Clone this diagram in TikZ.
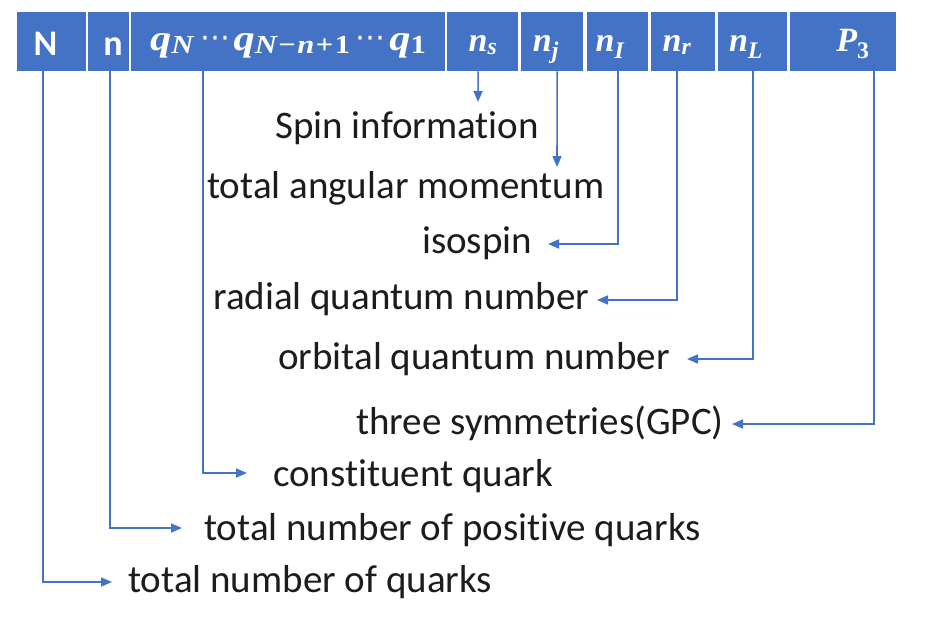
\documentclass[tikz,border=0pt]{standalone}
\usepackage{fontspec}
\setmainfont{Carlito}[Ligatures=NoCommon]
\newfontfamily\mfont{Liberation Serif}
\newfontfamily\qfont{Liberation Serif}[FakeStretch=1.18]
\newfontfamily\dotfont{DejaVu Sans}
\newcommand{\mysub}[1]{\textsubscript{#1}}
\newcommand{\qsub}[1]{\raisebox{-3.5pt}{\fontsize{26}{26}\selectfont #1}}
\newcommand{\qop}[1]{\hspace{1.5pt}{\upshape #1}\hspace{1.5pt}}
\newcommand{\mydots}[2]{\hspace{#1}\raisebox{3pt}{\fontsize{30}{30}\dotfont\mdseries\upshape ⋯}\hspace{#2}}
\usetikzlibrary{arrows.meta}
\definecolor{cblue}{RGB}{68,114,196}
\definecolor{ctext}{RGB}{28,28,28}
\begin{document}
\begin{tikzpicture}[x=1pt,y=-1pt,
  cell/.style={fill=cblue, draw=none, inner sep=0pt, anchor=north west, minimum height=59pt},
  hd/.style={text=white, inner sep=0pt, anchor=base, font=\fontsize{36}{36}\selectfont\bfseries},
  hm/.style={text=white, inner sep=0pt, anchor=base, font=\fontsize{34}{34}\selectfont\mfont\bfseries\itshape},
  hq/.style={text=white, inner sep=0pt, anchor=base, font=\fontsize{36}{36}\selectfont\qfont\bfseries\itshape},
  lbl/.style={text=ctext, inner sep=0pt, anchor=base west, font=\fontsize{39}{40}\selectfont},
  arr/.style={draw=cblue, line width=1.6pt, -{Triangle[length=11pt,width=9pt]}}]
\useasboundingbox (0,0) rectangle (927,622);
\fill[white] (0,0) rectangle (927,622);
% header cells
\node[cell, minimum width=69pt] (cN) at (17,12) {};
\node[cell, minimum width=41pt] (cn) at (88,12) {};
\node[cell, minimum width=314pt] (cq) at (131,12) {};
\node[cell, minimum width=71pt] (cns) at (447,12) {};
\node[cell, minimum width=62pt] (cnj) at (521,12) {};
\node[cell, minimum width=61pt] (cnI) at (587,12) {};
\node[cell, minimum width=64pt] (cnr) at (651,12) {};
\node[cell, minimum width=69pt] (cnL) at (718,12) {};
\node[cell, minimum width=106pt] (cP) at (790,12) {};
% header texts
\node[hd] (hN) at (45.5,55) {N};
\node[hd] (hn) at (113,55) {n};
\node[hq] (hq) at (288,50) {q\qsub{N}\mydots{7pt}{3pt}q\qsub{N\qop{−}n\qop{+}{\upshape 1}}\mydots{5pt}{4pt}q\qsub{\upshape 1}};
\node[hm] (hns) at (483,51) {n\mysub{s}};
\node[hm] (hnj) at (546,51) {n\mysub{j}};
\node[hm] (hnI) at (610,51) {n\mysub{I}};
\node[hm] (hnr) at (677,51) {n\mysub{r}};
\node[hm] (hnL) at (746,51) {n\mysub{L}};
\node[hm] (hP) at (853,51) {P\mysub{\upshape 3}};
% labels
\node[lbl] (lS) at (275,138) {Spin information};
\node[lbl] (lJ) at (207,198) {total angular momentum};
\node[lbl] (lI) at (422,253) {isospin};
\node[lbl] (lR) at (213,309) {radial quantum number};
\node[lbl] (lL) at (278,369) {orbital quantum number};
\node[lbl] (lP) at (356,434) {three symmetries(GPC)};
\node[lbl] (lq) at (273,486) {constituent quark};
\node[lbl] (ln) at (204,540) {total number of positive quarks};
\node[lbl] (lN) at (128,592) {total number of quarks};
% arrow tips
\coordinate (tS) at (478,102);
\coordinate (tJ) at (557,167);
\coordinate (tI) at (548,244);
\coordinate (tR) at (597,300);
\coordinate (tL) at (687,359);
\coordinate (tP) at (732,424);
\coordinate (tq) at (247,473);
\coordinate (tn) at (182,528);
\coordinate (tN) at (112,582);
% connectors
\draw[arr] ([xshift=-4.5pt]cns.south) -- (tS);
\draw[arr] ([xshift=5pt]cnj.south) -- (tJ);
\draw[arr] ([xshift=0.5pt]cnI.south) |- (tI);
\draw[arr] ([xshift=-6pt]cnr.south) |- (tR);
\draw[arr] ([xshift=0.5pt]cnL.south) |- (tL);
\draw[arr] ([xshift=31pt]cP.south) |- (tP);
\draw[arr] ([xshift=-85pt]cq.south) |- (tq);
\draw[arr] ([xshift=1.5pt]cn.south) |- (tn);
\draw[arr] ([xshift=-9pt]cN.south) |- (tN);
\end{tikzpicture}
\end{document}
